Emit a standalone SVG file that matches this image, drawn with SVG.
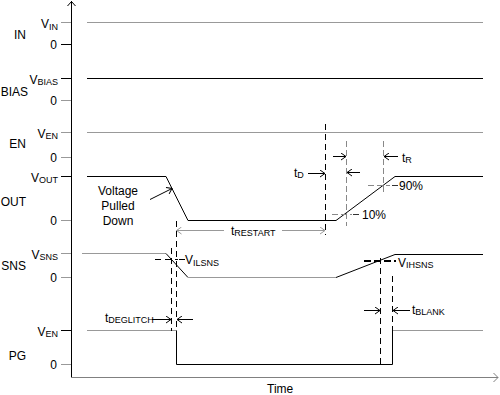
<svg xmlns="http://www.w3.org/2000/svg" width="500" height="395" viewBox="0 0 500 395">
<style>
text{font-family:"Liberation Sans",Arial,sans-serif;font-size:12px;fill:#000}
.sub{font-size:9px}
.k{stroke:#000;stroke-width:1;fill:none}
.g{stroke:#999;stroke-width:1;fill:none}
.kd{stroke:#000;stroke-width:1;stroke-dasharray:6 4;fill:none}
.gd{stroke:#888;stroke-width:1;stroke-dasharray:6 3;fill:none}
.ka{stroke:#000;stroke-width:1;fill:none;marker-end:url(#ak)}
.ga{stroke:#999;stroke-width:1;fill:none;marker-end:url(#ag)}
</style>
<defs>
<marker id="ak" viewBox="0 0 6 8" refX="5.5" refY="4" markerWidth="6" markerHeight="8" orient="auto" markerUnits="userSpaceOnUse"><path d="M0.5,0.5 L5.5,4 L0.5,7.5" fill="none" stroke="#000" stroke-width="1"/></marker>
<marker id="ag" viewBox="0 0 6 8" refX="5.5" refY="4" markerWidth="6" markerHeight="8" orient="auto" markerUnits="userSpaceOnUse"><path d="M0.5,0.5 L5.5,4 L0.5,7.5" fill="none" stroke="#999" stroke-width="1"/></marker>
</defs>
<rect width="500" height="395" fill="#fff"/>
<g id="axes">
<line class="k" x1="71.5" y1="1" x2="71.5" y2="378"/>
<path class="k" d="M67.5,6 L71.5,1.5 L75.5,6"/>
<line x1="71" y1="377.5" x2="498" y2="377.5" stroke="#808080" stroke-width="1"/>
<path d="M493.5,373 L498,377.5 L493.5,382" fill="none" stroke="#808080"/>
<text x="267" y="393">Time</text>
</g>
<g id="ticks">
<line class="g" x1="61" y1="22.5" x2="71" y2="22.5"/>
<line class="k" x1="61" y1="44.5" x2="71" y2="44.5"/>
<line class="k" x1="61" y1="78.5" x2="71" y2="78.5"/>
<line class="g" x1="61" y1="100.5" x2="71" y2="100.5"/>
<line class="g" x1="61" y1="132.5" x2="71" y2="132.5"/>
<line class="g" x1="61" y1="157.5" x2="71" y2="157.5"/>
<line class="k" x1="61" y1="176.5" x2="71" y2="176.5"/>
<line class="g" x1="61" y1="220.5" x2="71" y2="220.5"/>
<line class="g" x1="61" y1="253.5" x2="71" y2="253.5"/>
<line class="g" x1="61" y1="277.5" x2="71" y2="277.5"/>
<line class="k" x1="61" y1="330.5" x2="71" y2="330.5"/>
<line class="g" x1="61" y1="364.5" x2="71" y2="364.5"/>
<text x="58" y="28" text-anchor="end">V<tspan class="sub" dy="1.5">IN</tspan></text>
<text x="57" y="49" text-anchor="end">0</text>
<text x="58" y="83.5" text-anchor="end">V<tspan class="sub" dy="1.5">BIAS</tspan></text>
<text x="57" y="105" text-anchor="end">0</text>
<text x="58" y="137.5" text-anchor="end">V<tspan class="sub" dy="1.5">EN</tspan></text>
<text x="57" y="162" text-anchor="end">0</text>
<text x="58" y="181.5" text-anchor="end">V<tspan class="sub" dy="1.5">OUT</tspan></text>
<text x="57" y="225" text-anchor="end">0</text>
<text x="58" y="258.5" text-anchor="end">V<tspan class="sub" dy="1.5">SNS</tspan></text>
<text x="57" y="282" text-anchor="end">0</text>
<text x="58" y="335.5" text-anchor="end">V<tspan class="sub" dy="1.5">EN</tspan></text>
<text x="57" y="369" text-anchor="end">0</text>
</g>
<g id="sig-in"><text x="26" y="38.5" text-anchor="end">IN</text><line class="g" x1="87" y1="22.5" x2="483" y2="22.5"/></g>
<g id="sig-bias"><text x="28" y="95.5" text-anchor="end">BIAS</text><line class="k" x1="87" y1="78.5" x2="483" y2="78.5"/></g>
<g id="sig-en"><text x="26" y="148" text-anchor="end">EN</text><line class="g" x1="87" y1="132.5" x2="483" y2="132.5"/></g>
<g id="sig-out"><text x="26" y="205.5" text-anchor="end">OUT</text><polyline class="k" points="87,176.5 166,176.5 188,220.5 336,220.5 395,176.5 483,176.5"/></g>
<g id="sig-sns"><text x="26" y="270" text-anchor="end">SNS</text>
<line class="g" x1="82" y1="253.5" x2="166" y2="253.5"/>
<line class="k" x1="166" y1="253.5" x2="188" y2="277.5"/>
<line class="g" x1="188" y1="277.5" x2="336" y2="277.5"/>
<polyline class="k" points="336,277.5 395,254.5 483,254.5"/>
</g>
<g id="sig-pg"><text x="26" y="360" text-anchor="end">PG</text>
<line class="g" x1="87" y1="330.5" x2="176.5" y2="330.5"/>
<polyline class="k" points="176.5,330.5 176.5,364.5 392.5,364.5 392.5,330.5"/>
<line class="g" x1="392.5" y1="330.5" x2="483" y2="330.5"/>
</g>
<g id="connectors">
<line class="kd" x1="171.5" y1="248" x2="171.5" y2="331"/>
<line class="kd" x1="176.5" y1="221" x2="176.5" y2="331"/>
<line class="kd" x1="325.5" y1="124" x2="325.5" y2="235"/>
<line class="gd" x1="346.5" y1="141" x2="346.5" y2="226"/>
<line class="gd" x1="383.5" y1="141" x2="383.5" y2="194"/>
<line class="kd" x1="380.5" y1="258" x2="380.5" y2="365"/>
<line class="kd" x1="392.5" y1="276" x2="392.5" y2="331"/>
<line class="kd" x1="155" y1="259.5" x2="178" y2="259.5"/>
<line class="k" x1="179" y1="259.5" x2="185" y2="259.5"/>
<line x1="364" y1="261" x2="396" y2="261" stroke="#000" stroke-width="2" stroke-dasharray="7 3"/>
<line class="gd" x1="332" y1="214.5" x2="352" y2="214.5"/>
<line x1="353" y1="214.5" x2="359" y2="214.5" stroke="#333"/>
<line class="gd" x1="368" y1="185.5" x2="390" y2="185.5"/>
<line x1="392" y1="185.5" x2="398" y2="185.5" stroke="#333"/>
<line class="ka" x1="150" y1="199.5" x2="172" y2="188.5"/>
<line class="ga" x1="224" y1="230.5" x2="176.5" y2="230.5"/>
<line class="ga" x1="282" y1="230.5" x2="325" y2="230.5"/>
<line class="ka" x1="308" y1="173.5" x2="325" y2="173.5"/>
<line class="ka" x1="333" y1="156.5" x2="346" y2="156.5"/>
<line class="ka" x1="360" y1="172.5" x2="347" y2="172.5"/>
<line class="ka" x1="398" y1="156.5" x2="384" y2="156.5"/>
<line class="ka" x1="152" y1="319.5" x2="171" y2="319.5"/>
<line class="ka" x1="193" y1="319.5" x2="177" y2="319.5"/>
<line class="ka" x1="364" y1="310.5" x2="380" y2="310.5"/>
<line class="ka" x1="410" y1="310.5" x2="393" y2="310.5"/>
</g>
<g id="labels">
<text x="118" y="195" text-anchor="middle">Voltage</text>
<text x="118" y="210" text-anchor="middle">Pulled</text>
<text x="118" y="225" text-anchor="middle">Down</text>
<text x="231" y="235">t<tspan class="sub" dy="1">RESTART</tspan></text>
<text x="294" y="177">t<tspan class="sub" dy="1">D</tspan></text>
<text x="402" y="161.5">t<tspan class="sub" dy="1">R</tspan></text>
<text x="399" y="190">90%</text>
<text x="362" y="218.5">10%</text>
<text x="185" y="263.5">V<tspan class="sub" dy="2">ILSNS</tspan></text>
<text x="398" y="266.5">V<tspan class="sub" dy="1.5">IHSNS</tspan></text>
<text x="105" y="322">t<tspan class="sub" dy="1">DEGLITCH</tspan></text>
<text x="412" y="313.5">t<tspan class="sub" dy="1">BLANK</tspan></text>
</g>
</svg>
